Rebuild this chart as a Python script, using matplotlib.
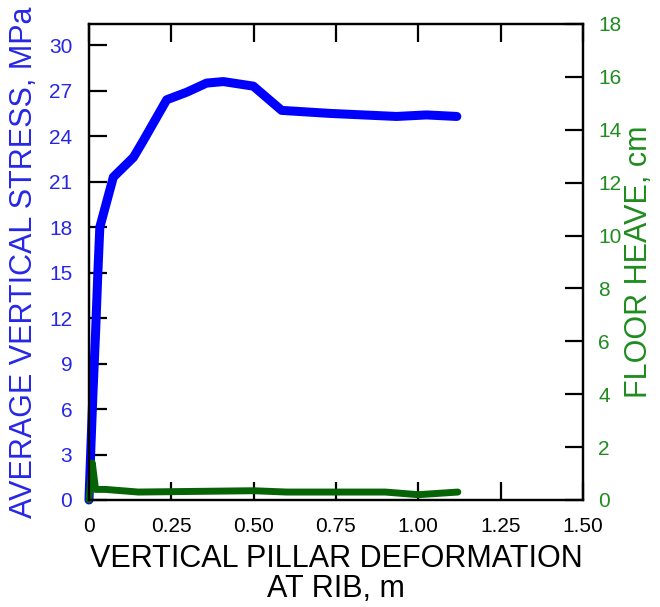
import matplotlib
matplotlib.use("Agg")
import matplotlib.pyplot as plt

plt.rcParams['font.family'] = ['Liberation Sans', 'DejaVu Sans']

# blue curve: average vertical stress (MPa) vs deformation (m)
stress_x = [0, 0.005, 0.012, 0.02, 0.027, 0.033, 0.074, 0.135, 0.165, 0.236,
            0.297, 0.357, 0.408, 0.499, 0.585, 0.732, 0.934, 1.025, 1.117]
stress_y = [0, 3, 7, 11, 15, 18, 21.3, 22.6, 23.7, 26.4,
            26.9, 27.5, 27.6, 27.3, 25.7, 25.5, 25.3, 25.4, 25.3]

# green curve: floor heave (cm)
heave_x = [0, 0.01, 0.02, 0.05, 0.15, 0.5, 0.6, 0.9, 1.0, 1.12]
heave_y = [0, 1.4, 0.4, 0.4, 0.3, 0.35, 0.3, 0.3, 0.2, 0.3]

x_ticks = [0, 0.25, 0.5, 0.75, 1.0, 1.25, 1.5]
x_labels = ["0", "0.25", "0.50", "0.75", "1.00", "1.25", "1.50"]
left_ticks = [0, 3, 6, 9, 12, 15, 18, 21, 24, 27, 30]
right_ticks = [0, 2, 4, 6, 8, 10, 12, 14, 16, 18]

BLUE = '#0000ff'
BLUE_TXT = '#2626e6'
GREEN = '#066406'
GREEN_TXT = '#1e8c1e'

fig = plt.figure(figsize=(6.6, 6.07), dpi=100)
ax = fig.add_axes([0.1348, 0.1763, 0.7485, 0.7842])
ax2 = ax.twinx()

ax.plot(stress_x, stress_y, color=BLUE, lw=6.5, solid_capstyle='round',
        solid_joinstyle='round', clip_on=False, zorder=3)
ax2.plot(heave_x, heave_y, color=GREEN, lw=5, solid_capstyle='round',
         solid_joinstyle='round', clip_on=False)

ax.set_xlim(0, 1.5)
ax.set_ylim(0, 31.4)
ax2.set_ylim(0, 18)

ax.set_xticks(x_ticks)
ax.set_xticklabels(x_labels)
ax.set_yticks(left_ticks)
ax2.set_yticks(right_ticks)

for a in (ax, ax2):
    for s in a.spines.values():
        s.set_linewidth(1.6)
ax.tick_params(axis='x', direction='in', length=13, width=1.6, top=True,
               labelsize=15, pad=12, colors='black')
ax.tick_params(axis='y', direction='in', length=13, width=1.6, labelsize=15,
               pad=12, labelcolor=BLUE_TXT)
ax2.tick_params(axis='y', direction='in', length=13, width=1.6, labelsize=15,
                pad=11, labelcolor=GREEN_TXT)

ax.set_xlabel("VERTICAL PILLAR DEFORMATION\nAT RIB, m", fontsize=22,
              linespacing=1.0, labelpad=6)
ax.set_ylabel("AVERAGE VERTICAL STRESS, MPa", fontsize=22, color=BLUE_TXT)
ax.yaxis.set_label_coords(-0.101, 0.5)
ax2.set_ylabel("FLOOR HEAVE, cm", fontsize=22, color=GREEN_TXT)
ax2.yaxis.set_label_coords(1.084, 0.5)

fig.savefig("out.png", dpi=100)
